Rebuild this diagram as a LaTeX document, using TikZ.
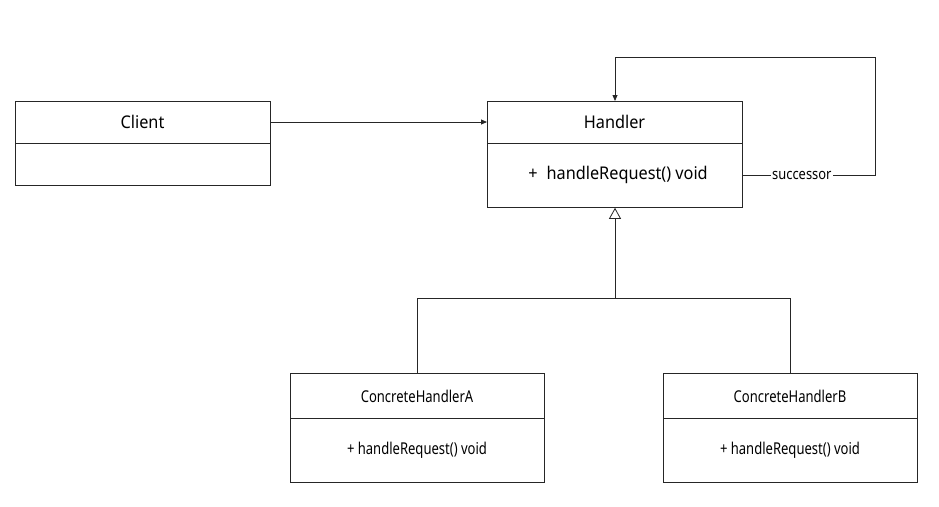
\documentclass[tikz,border=0pt]{standalone}
\usepackage{fontspec}
\setmainfont{Noto Sans}
\newfontfamily\bigfam[FakeStretch=0.93]{Noto Sans}
\newfontfamily\smallfam[FakeStretch=0.8]{Noto Sans}
\newfontfamily\lblfam[FakeStretch=0.86]{Noto Sans}
\usetikzlibrary{arrows.meta}
\begin{document}
\begin{tikzpicture}[x=1pt,y=-1pt,
  box/.style={draw=black!85, line width=0.8pt},
  bigtext/.style={font=\bigfam\fontsize{17.5}{20}\selectfont, inner sep=0pt},
  smalltext/.style={font=\smallfam\fontsize{16.3}{19}\selectfont, inner sep=0pt},
  conn/.style={draw=black!85, line width=0.8pt},
  assoc/.style={conn, -{Triangle[length=6pt,width=5pt]}},
  inherit/.style={conn, -{Triangle[open,length=11pt,width=12pt,fill=white]}},
  lbl/.style={font=\lblfam\fontsize{15}{17}\selectfont, fill=white, inner sep=1pt}]
\useasboundingbox (0,0) rectangle (939,506);
% Client
\node[box, minimum width=255pt, minimum height=84pt, inner sep=0pt, anchor=north west] (client) at (15,101) {};
\draw[box] (15,143) -- (270,143);
\node[bigtext] (clientT) at (142.5,122) {Client};
% Handler
\node[box, minimum width=255pt, minimum height=106pt, inner sep=0pt, anchor=north west] (handler) at (487,101) {};
\draw[box] (487,143) -- (742,143);
\node[bigtext] (handlerT) at (614.5,122) {Handler};
\node[bigtext] (handlerM) at (618,175) {+\hspace{9pt}handleRequest() void};
% Concrete A
\node[box, minimum width=254pt, minimum height=109pt, inner sep=0pt, anchor=north west] (ca) at (290,373) {};
\draw[box] (290,418) -- (544,418);
\node[smalltext] (caT) at (417,396) {ConcreteHandlerA};
\node[smalltext] (caM) at (417,450) {+ handleRequest() void};
% Concrete B
\node[box, minimum width=254pt, minimum height=109pt, inner sep=0pt, anchor=north west] (cb) at (663,373) {};
\draw[box] (663,418) -- (917,418);
\node[smalltext] (cbT) at (790,396) {ConcreteHandlerB};
\node[smalltext] (cbM) at (790,450) {+ handleRequest() void};
% connectors
\draw[assoc] (client.east |- clientT) -- (handler.west |- clientT);
\coordinate (sA) at (742,175);
\coordinate (sB) at (875,175);
\coordinate (sC) at (875,57);
\coordinate (sD) at (615,57);
\draw[assoc] (sA) -- node[lbl, pos=0.45] {successor} (sB) -- (sC) -- (sD) -- (sD |- handler.north);
\coordinate (j) at (615,298);
\draw[conn] (ca.north) -- (ca.north |- j) -- (cb.north |- j) -- (cb.north);
\draw[inherit] (j) -- (j |- handler.south);
\end{tikzpicture}
\end{document}
